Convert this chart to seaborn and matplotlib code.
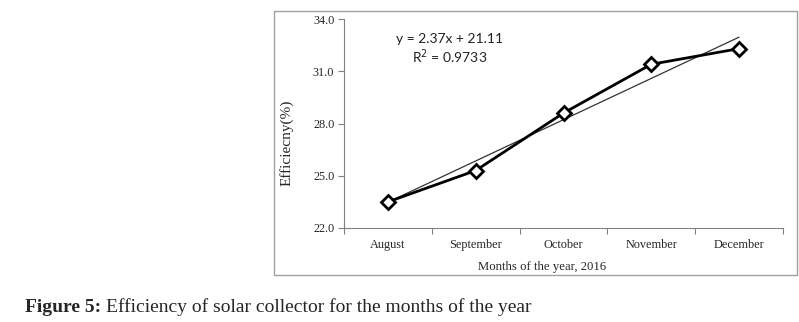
import numpy as np
import pandas as pd
import matplotlib
matplotlib.use("Agg")
import matplotlib.pyplot as plt
from matplotlib.patches import Rectangle
from matplotlib.ticker import FixedLocator
import seaborn as sns

months = ["August", "September", "October", "November", "December"]
efficiency = [23.5, 25.3, 28.6, 31.4, 32.3]
yticks = [22.0, 25.0, 28.0, 31.0, 34.0]

sns.set_theme(style="white")
plt.rcParams['font.family'] = ['Liberation Serif', 'DejaVu Serif']

idx = np.arange(1, len(months) + 1)
df = pd.DataFrame({"idx": idx, "eff": efficiency})
slope, intercept = np.polyfit(idx, efficiency, 1)
pred = slope * idx + intercept
ss_res = np.sum((np.array(efficiency) - pred) ** 2)
ss_tot = np.sum((np.array(efficiency) - np.mean(efficiency)) ** 2)
r2 = 1 - ss_res / ss_tot
trend = pd.DataFrame({"idx": [idx[0], idx[-1]], "fit": [pred[0], pred[-1]]})

fig = plt.figure(figsize=(7.99, 3.22), dpi=100)
ax = fig.add_axes([344 / 799, 1 - 228 / 322, (783 - 344) / 799, (228 - 19) / 322])

sns.lineplot(data=trend, x="idx", y="fit", ax=ax, color="#333333", linewidth=0.9)
sns.lineplot(data=df, x="idx", y="eff", ax=ax, color="black", linewidth=2.0,
             marker="D", markersize=7, markerfacecolor="white",
             markeredgecolor="black", markeredgewidth=2.0)

ax.set_xlim(0.5, 5.5)
ax.set_ylim(22, 34)
ax.set_yticks(yticks)
ax.set_yticklabels([f"{v:.1f}" for v in yticks], fontsize=8.8)
ax.set_xticks(idx)
ax.set_xticklabels(months, fontsize=8.8)
ax.xaxis.set_minor_locator(FixedLocator(np.arange(0.5, 5.6, 1.0)))
ax.tick_params(axis="x", which="major", length=0, pad=8)
ax.tick_params(axis="x", which="minor", length=4, width=0.8, color="#808080", direction="out", bottom=True)
ax.tick_params(axis="y", length=4, width=0.8, color="#808080", direction="out", left=True, pad=3)

for s in ["top", "right"]:
    ax.spines[s].set_visible(False)
for s in ["left", "bottom"]:
    ax.spines[s].set_color("#808080")
    ax.spines[s].set_linewidth(0.8)

ax.set_xlabel("Months of the year, 2016", fontsize=9.2)
ax.xaxis.set_label_coords((542 - 344) / 439, -(261 - 228) / 209)
ax.set_ylabel("Efficiecny(%)", fontsize=11)
ax.yaxis.set_label_coords((294 - 344) / 439, (228 - 143) / 209)

ax.text(1.7, 32.85, f"y = {slope:.2f}x + {intercept:.2f}", fontsize=10,
        family=["Lato", "DejaVu Sans"], ha="center", va="center", color="#222222")
ax.text(1.7, 31.82, f"R$^2$ = {r2:.4f}", fontsize=10,
        family=["Lato", "DejaVu Sans"], ha="center", va="center", color="#222222")

fig.patches.append(Rectangle((274 / 799, 1 - 275 / 322), (797 - 274) / 799, (275 - 11) / 322,
                             transform=fig.transFigure, fill=False, edgecolor="#a0a0a0", linewidth=1.0))

fig.text(25 / 799, 1 - 307 / 322, "Figure 5:", fontsize=14, fontweight="bold",
         family=["Liberation Serif"], va="center", ha="left")
fig.text(106 / 799, 1 - 307 / 322, "Efficiency of solar collector for the months of the year",
         fontsize=14, family=["Liberation Serif"], va="center", ha="left")

fig.savefig("out.png", dpi=100)
